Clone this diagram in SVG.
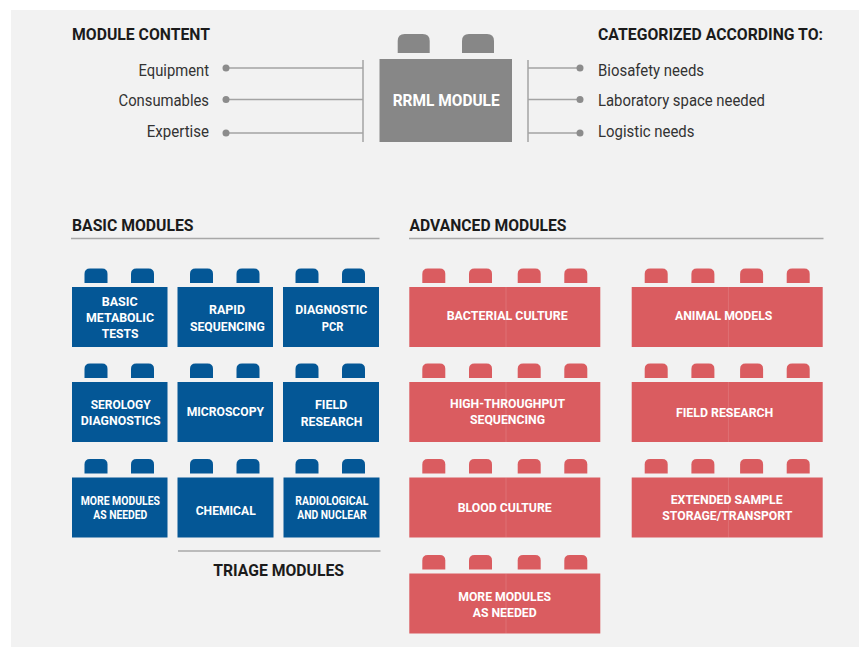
<svg xmlns="http://www.w3.org/2000/svg" xmlns:xlink="http://www.w3.org/1999/xlink" width="859" height="647" viewBox="0 0 859 647">
<style>
  text { font-family: Roboto, "Liberation Sans", sans-serif; }
  .hdr { font-size: 17px; font-weight: 700; fill: #1b1b1b; }
  .lbl { font-size: 16.5px; font-weight: 400; fill: #333333; }
  .wt { font-size: 13.5px; font-weight: 700; fill: #ffffff; }
  .wts { font-size: 12px; font-weight: 700; fill: #ffffff; }
  .big { font-size: 17px; font-weight: 700; fill: #ffffff; }
  .blue { fill: #045796; }
  .red { fill: #da5c60; }
  .grey { fill: #878787; }
  .seam { stroke: #ffffff; stroke-opacity: 0.13; stroke-width: 1; }
  .conn { stroke: #a3a3a3; stroke-width: 1.5; fill: none; }
  .dot { fill: #8c8c8c; }
  .rule { stroke: #a8a8a8; stroke-width: 1.6; }
</style>
<defs>
  <path id="stud" d="M0,14.5 V5.5 Q0,0 5.5,0 H17.5 Q23,0 23,5.5 V14.5 Z"/>
  <path id="bigstud" d="M0,19 V7 Q0,0 7,0 H25 Q32,0 32,7 V19 Z"/>
</defs>
<rect x="0" y="0" width="859" height="647" fill="#ffffff"/>
<rect x="11" y="10" width="848" height="637" fill="#f2f2f2"/>

<!-- headings -->
<g id="headings">
  <text class="hdr" x="72" y="40" textLength="138" lengthAdjust="spacingAndGlyphs">MODULE CONTENT</text>
  <text class="hdr" x="598" y="40" textLength="225" lengthAdjust="spacingAndGlyphs">CATEGORIZED ACCORDING TO:</text>
  <text class="hdr" x="72" y="230.5" textLength="121.5" lengthAdjust="spacingAndGlyphs">BASIC MODULES</text>
  <text class="hdr" x="409.5" y="230.5" textLength="157" lengthAdjust="spacingAndGlyphs">ADVANCED MODULES</text>
  <text class="hdr" x="213.3" y="576" textLength="130.7" lengthAdjust="spacingAndGlyphs">TRIAGE MODULES</text>
  <line class="rule" x1="71" y1="238.5" x2="379.5" y2="238.5"/>
  <line class="rule" x1="409" y1="238.5" x2="823.5" y2="238.5"/>
  <line class="rule" x1="178" y1="551" x2="380.5" y2="551"/>
</g>

<!-- connectors -->
<g id="connectors">
  <line class="conn" x1="363" y1="60" x2="363" y2="142"/>
  <line class="conn" x1="226" y1="68" x2="363" y2="68"/>
  <line class="conn" x1="226" y1="99.5" x2="363" y2="99.5"/>
  <line class="conn" x1="226" y1="133" x2="363" y2="133"/>
  <circle class="dot" cx="226" cy="68" r="3.5"/>
  <circle class="dot" cx="226" cy="99.5" r="3.5"/>
  <circle class="dot" cx="226" cy="133" r="3.5"/>
  <line class="conn" x1="528" y1="60" x2="528" y2="142"/>
  <line class="conn" x1="528" y1="68" x2="580" y2="68"/>
  <line class="conn" x1="528" y1="99.5" x2="580" y2="99.5"/>
  <line class="conn" x1="528" y1="133" x2="580" y2="133"/>
  <circle class="dot" cx="580" cy="68" r="3.5"/>
  <circle class="dot" cx="580" cy="99.5" r="3.5"/>
  <circle class="dot" cx="580" cy="133" r="3.5"/>
</g>

<g id="content-labels">
  <text class="lbl" x="138.5" y="76" textLength="70.5" lengthAdjust="spacingAndGlyphs">Equipment</text>
  <text class="lbl" x="118.5" y="106" textLength="90.5" lengthAdjust="spacingAndGlyphs">Consumables</text>
  <text class="lbl" x="146.7" y="137" textLength="62.3" lengthAdjust="spacingAndGlyphs">Expertise</text>
</g>
<g id="category-labels">
  <text class="lbl" x="598" y="76" textLength="106" lengthAdjust="spacingAndGlyphs">Biosafety needs</text>
  <text class="lbl" x="598" y="105.5" textLength="167" lengthAdjust="spacingAndGlyphs">Laboratory space needed</text>
  <text class="lbl" x="598" y="137" textLength="96.5" lengthAdjust="spacingAndGlyphs">Logistic needs</text>
</g>

<g id="rrml-module">
  <use href="#bigstud" x="397.7" y="34" class="grey"/>
  <use href="#bigstud" x="462" y="34" class="grey"/>
  <rect class="grey" x="379.5" y="59" width="132.5" height="83"/>
  <text class="big" x="392.7" y="106" textLength="107" lengthAdjust="spacingAndGlyphs">RRML MODULE</text>
</g>

<!-- basic modules -->
<g id="basic-metabolic-tests">
  <use href="#stud" x="84.5" y="268.5" class="blue"/><use href="#stud" x="131" y="268.5" class="blue"/>
  <rect class="blue" x="72" y="287" width="95.5" height="60"/>
  <text class="wt" x="101.7" y="305.5" textLength="36" lengthAdjust="spacingAndGlyphs">BASIC</text>
  <text class="wt" x="86" y="321.5" textLength="68" lengthAdjust="spacingAndGlyphs">METABOLIC</text>
  <text class="wt" x="101.7" y="338" textLength="36.7" lengthAdjust="spacingAndGlyphs">TESTS</text>
</g>
<g id="rapid-sequencing">
  <use href="#stud" x="190" y="268.5" class="blue"/><use href="#stud" x="236.5" y="268.5" class="blue"/>
  <rect class="blue" x="177.5" y="287" width="95.5" height="60"/>
  <text class="wt" x="209" y="314.3" textLength="36" lengthAdjust="spacingAndGlyphs">RAPID</text>
  <text class="wt" x="190" y="330.5" textLength="74.7" lengthAdjust="spacingAndGlyphs">SEQUENCING</text>
</g>
<g id="diagnostic-pcr">
  <use href="#stud" x="295.5" y="268.5" class="blue"/><use href="#stud" x="342" y="268.5" class="blue"/>
  <rect class="blue" x="283" y="287" width="96" height="60"/>
  <text class="wt" x="295.3" y="314.3" textLength="72" lengthAdjust="spacingAndGlyphs">DIAGNOSTIC</text>
  <text class="wt" x="321.7" y="330.5" textLength="21.7" lengthAdjust="spacingAndGlyphs">PCR</text>
</g>
<g id="serology-diagnostics">
  <use href="#stud" x="84.5" y="363.5" class="blue"/><use href="#stud" x="131" y="363.5" class="blue"/>
  <rect class="blue" x="72" y="382" width="95.5" height="60"/>
  <text class="wt" x="90.7" y="408.7" textLength="60" lengthAdjust="spacingAndGlyphs">SEROLOGY</text>
  <text class="wt" x="80.7" y="424.5" textLength="80" lengthAdjust="spacingAndGlyphs">DIAGNOSTICS</text>
</g>
<g id="microscopy">
  <use href="#stud" x="190" y="363.5" class="blue"/><use href="#stud" x="236.5" y="363.5" class="blue"/>
  <rect class="blue" x="177.5" y="382" width="95.5" height="60"/>
  <text class="wt" x="186.7" y="416" textLength="77.3" lengthAdjust="spacingAndGlyphs">MICROSCOPY</text>
</g>
<g id="field-research-basic">
  <use href="#stud" x="295.5" y="363.5" class="blue"/><use href="#stud" x="342" y="363.5" class="blue"/>
  <rect class="blue" x="283" y="382" width="96" height="60"/>
  <text class="wt" x="315" y="409" textLength="32.3" lengthAdjust="spacingAndGlyphs">FIELD</text>
  <text class="wt" x="300.7" y="425.7" textLength="61.7" lengthAdjust="spacingAndGlyphs">RESEARCH</text>
</g>
<g id="more-modules-basic">
  <use href="#stud" x="84.5" y="459" class="blue"/><use href="#stud" x="131" y="459" class="blue"/>
  <rect class="blue" x="72" y="477.5" width="95.5" height="60"/>
  <text class="wts" x="80.7" y="505" textLength="79.3" lengthAdjust="spacingAndGlyphs">MORE MODULES</text>
  <text class="wts" x="93.3" y="519.3" textLength="54" lengthAdjust="spacingAndGlyphs">AS NEEDED</text>
</g>
<g id="chemical">
  <use href="#stud" x="190" y="459" class="blue"/><use href="#stud" x="236.5" y="459" class="blue"/>
  <rect class="blue" x="177.5" y="477.5" width="96" height="60"/>
  <text class="wt" x="195.7" y="515" textLength="60" lengthAdjust="spacingAndGlyphs">CHEMICAL</text>
</g>
<g id="radiological-nuclear">
  <use href="#stud" x="295.5" y="459" class="blue"/><use href="#stud" x="342" y="459" class="blue"/>
  <rect class="blue" x="283.5" y="477.5" width="96" height="60"/>
  <text class="wts" x="295.3" y="505" textLength="73" lengthAdjust="spacingAndGlyphs">RADIOLOGICAL</text>
  <text class="wts" x="297.3" y="519.3" textLength="69.3" lengthAdjust="spacingAndGlyphs">AND NUCLEAR</text>
</g>

<!-- advanced modules -->
<g id="bacterial-culture">
  <use href="#stud" x="422.3" y="268.5" class="red"/><use href="#stud" x="469" y="268.5" class="red"/><use href="#stud" x="517.7" y="268.5" class="red"/><use href="#stud" x="564.3" y="268.5" class="red"/>
  <rect class="red" x="409.3" y="287" width="191" height="60"/>
  <line class="seam" x1="506" y1="287" x2="506" y2="347"/>
  <text class="wt" x="446.7" y="320" textLength="121" lengthAdjust="spacingAndGlyphs">BACTERIAL CULTURE</text>
</g>
<g id="animal-models">
  <use href="#stud" x="644.7" y="268.5" class="red"/><use href="#stud" x="691.4" y="268.5" class="red"/><use href="#stud" x="740.1" y="268.5" class="red"/><use href="#stud" x="786.7" y="268.5" class="red"/>
  <rect class="red" x="631.7" y="287" width="191" height="60"/>
  <line class="seam" x1="728.4" y1="287" x2="728.4" y2="347"/>
  <text class="wt" x="675" y="320" textLength="97.3" lengthAdjust="spacingAndGlyphs">ANIMAL MODELS</text>
</g>
<g id="high-throughput-sequencing">
  <use href="#stud" x="422.3" y="363.5" class="red"/><use href="#stud" x="469" y="363.5" class="red"/><use href="#stud" x="517.7" y="363.5" class="red"/><use href="#stud" x="564.3" y="363.5" class="red"/>
  <rect class="red" x="409.3" y="382" width="191" height="60"/>
  <line class="seam" x1="506" y1="382" x2="506" y2="442"/>
  <text class="wt" x="450" y="408.3" textLength="115" lengthAdjust="spacingAndGlyphs">HIGH-THROUGHPUT</text>
  <text class="wt" x="470" y="424.3" textLength="75" lengthAdjust="spacingAndGlyphs">SEQUENCING</text>
</g>
<g id="field-research-advanced">
  <use href="#stud" x="644.7" y="363.5" class="red"/><use href="#stud" x="691.4" y="363.5" class="red"/><use href="#stud" x="740.1" y="363.5" class="red"/><use href="#stud" x="786.7" y="363.5" class="red"/>
  <rect class="red" x="631.7" y="382" width="191" height="60"/>
  <line class="seam" x1="728.4" y1="382" x2="728.4" y2="442"/>
  <text class="wt" x="676" y="417.3" textLength="97.3" lengthAdjust="spacingAndGlyphs">FIELD RESEARCH</text>
</g>
<g id="blood-culture">
  <use href="#stud" x="422.3" y="459" class="red"/><use href="#stud" x="469" y="459" class="red"/><use href="#stud" x="517.7" y="459" class="red"/><use href="#stud" x="564.3" y="459" class="red"/>
  <rect class="red" x="409.3" y="477.5" width="191" height="60"/>
  <line class="seam" x1="506" y1="477.5" x2="506" y2="537.5"/>
  <text class="wt" x="457.7" y="512.3" textLength="94" lengthAdjust="spacingAndGlyphs">BLOOD CULTURE</text>
</g>
<g id="extended-sample-storage">
  <use href="#stud" x="644.7" y="459" class="red"/><use href="#stud" x="691.4" y="459" class="red"/><use href="#stud" x="740.1" y="459" class="red"/><use href="#stud" x="786.7" y="459" class="red"/>
  <rect class="red" x="631.7" y="477.5" width="191" height="60"/>
  <line class="seam" x1="728.4" y1="477.5" x2="728.4" y2="537.5"/>
  <text class="wt" x="670.7" y="504" textLength="112" lengthAdjust="spacingAndGlyphs">EXTENDED SAMPLE</text>
  <text class="wt" x="662.3" y="520" textLength="130" lengthAdjust="spacingAndGlyphs">STORAGE/TRANSPORT</text>
</g>
<g id="more-modules-advanced">
  <use href="#stud" x="422.3" y="555" class="red"/><use href="#stud" x="469" y="555" class="red"/><use href="#stud" x="517.7" y="555" class="red"/><use href="#stud" x="564.3" y="555" class="red"/>
  <rect class="red" x="409.3" y="573.5" width="191" height="60"/>
  <line class="seam" x1="506" y1="573.5" x2="506" y2="633.5"/>
  <text class="wt" x="458.3" y="600.7" textLength="92.7" lengthAdjust="spacingAndGlyphs">MORE MODULES</text>
  <text class="wt" x="472.7" y="616.7" textLength="64" lengthAdjust="spacingAndGlyphs">AS NEEDED</text>
</g>
</svg>
